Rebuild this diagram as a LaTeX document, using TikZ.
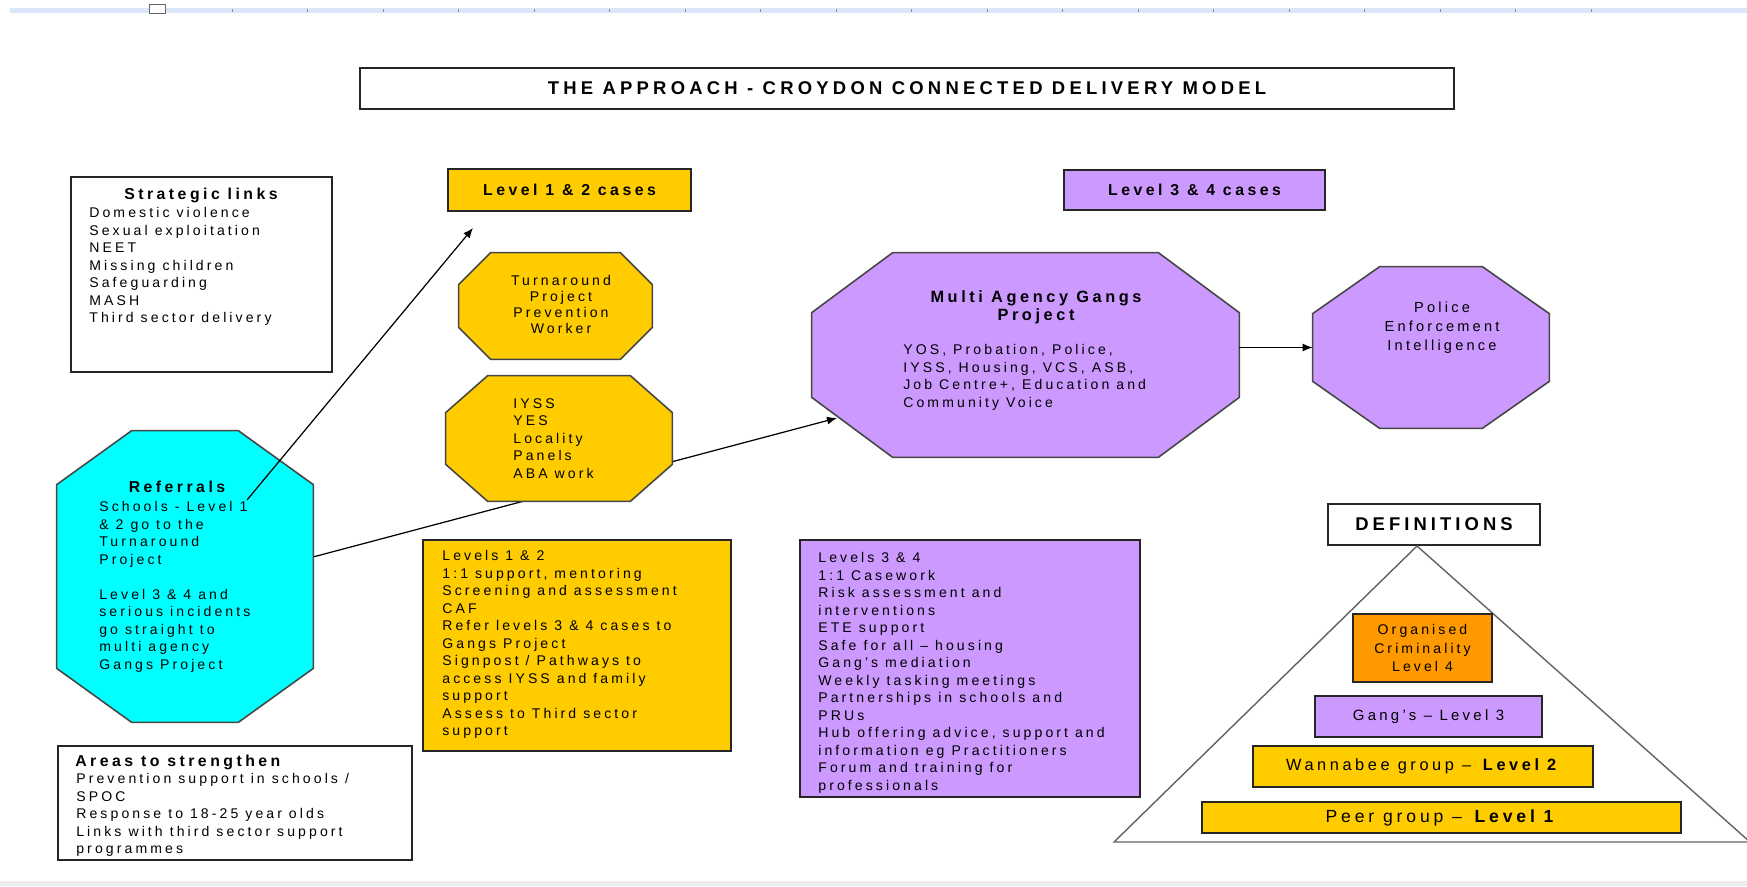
\documentclass[tikz,border=0pt]{standalone}
\usepackage{fontspec}
\setmainfont{Liberation Sans}[LetterSpace=22]
\newfontfamily\titlefamily{Liberation Sans}[LetterSpace=23]
\usetikzlibrary{arrows.meta, fit, calc}

\definecolor{gold}{RGB}{255,204,0}
\definecolor{lilac}{RGB}{204,153,255}
\definecolor{aqua}{RGB}{0,255,255}
\definecolor{amber}{RGB}{255,153,0}
\definecolor{edge}{RGB}{70,70,70}
\definecolor{ruler}{RGB}{218,230,250}

\pgfdeclarelayer{lines}
\pgfdeclarelayer{shapes}
\pgfsetlayers{lines,shapes,main}

\newcommand\bodyfont{\fontsize{8}{9.96}\selectfont}
\newcommand\headfont{\fontsize{9}{11}\selectfont\bfseries}
\newcommand\titlefont{\titlefamily\fontsize{10.5}{12}\selectfont\bfseries}

% octagon round a fitted node: #2 node, #3 x cut, #4 y cut
\newcommand\octagonof[4][]{%
  \begin{pgfonlayer}{shapes}
    \draw[octo,#1] ($(#2.north west)+(#3,0)$) -- ($(#2.north east)+(-#3,0)$)
      -- ($(#2.north east)+(0,#4)$) -- ($(#2.south east)+(0,-#4)$)
      -- ($(#2.south east)+(-#3,0)$) -- ($(#2.south west)+(#3,0)$)
      -- ($(#2.south west)+(0,-#4)$) -- ($(#2.north west)+(0,#4)$) -- cycle;
  \end{pgfonlayer}}

\tikzset{
  boxed/.style={
    rectangle,
    draw=black!85,
    line width=0.9pt,
    inner sep=0pt
  },
  octo/.style={draw=edge, line width=0.9pt},
  headtext/.style={inner sep=0pt, font=\headfont},
  listtext/.style={
    inner sep=0pt,
    anchor=north west,
    align=left,
    font=\bodyfont
  },
  centretext/.style={
    inner sep=0pt,
    anchor=north,
    align=center,
    font=\bodyfont
  },
  boxtext/.style={inner sep=0pt, align=center},
  link/.style={line width=0.7pt, -{Latex[length=0.2cm,width=0.16cm]}},
  pyramid/.style={draw=edge!85, line width=0.8pt}
}

\begin{document}
\begin{tikzpicture}[x=0.02cm, y=-0.02cm]
  \useasboundingbox (0,0) rectangle (1747,886);
  % window ruler and bottom edge
  \fill[ruler] (10,8) rectangle (1747,13);
  \draw[black!60, fill=white] (149,4) rectangle (165,13);
  \foreach \t in {0,...,18}
    \draw[black!45] ({232+75.5*\t},9) -- ++(0,3);
  \fill[black!7] (0,881) rectangle (1747,886);

  \node[boxed, line width=1.4pt, fit={(360,68)(1454,109)}] (title) {};
  \node[boxtext, font=\titlefont] (titletext) at (title) {THE APPROACH - CROYDON CONNECTED DELIVERY MODEL};

  % case headers
  \node[boxed, fill=gold, fit={(448,169)(691,211)}] (cases12) {};
  \node[boxtext, font=\headfont] (cases12text) at (cases12) {Level 1 \& 2 cases};
  \node[boxed, fill=lilac, fit={(1064,170)(1325,210)}] (cases34) {};
  \node[boxtext, font=\headfont] (cases34text) at (cases34) {Level 3 \& 4 cases};

  % strategic links
  \node[boxed, fit={(71,177)(332,372)}] (strat) {};
  \node[headtext, anchor=base] (strathead) at (201,199) {Strategic links};
  \node[listtext] (stratlist) at (89,207) {Domestic violence\\Sexual exploitation\\NEET\\Missing children\\Safeguarding\\MASH\\Third sector delivery};

  % referrals
  \node[fit={(57,431)(313,722)}, inner sep=0pt] (refer) {};
  \octagonof[fill=aqua]{refer}{75}{54}
  \node[headtext, anchor=base] (referhead) at (177,492) {Referrals};
  \node[listtext] (referlist) at (99,501) {Schools - Level 1\\\& 2 go to the\\Turnaround\\Project\\[9.96pt]Level 3 \& 4 and\\serious incidents\\go straight to\\multi agency\\Gangs Project};

  % level 1 & 2 octagons
  \node[fit={(459,253)(652,359)}, inner sep=0pt] (turn) {};
  \octagonof[fill=gold]{turn}{32}{32}
  \node[centretext, font=\fontsize{8}{9.1}\selectfont] (turntext) at (561,275) {Turnaround\\Project\\Prevention\\Worker};
  \node[fit={(446,376)(672,501)}, inner sep=0pt] (iyss) {};
  \octagonof[fill=gold]{iyss}{42}{37}
  \node[listtext] (iysslist) at (513,398) {IYSS\\YES\\Locality\\Panels\\ABA work};

  % level 3 & 4 octagons
  \node[fit={(812,253)(1239,457)}, inner sep=0pt] (gangs) {};
  \octagonof[fill=lilac]{gangs}{81}{60}
  \node[headtext, anchor=north, align=center, font=\fontsize{9.3}{10.2}\selectfont\bfseries] (gangshead) at (1036,290) {Multi Agency Gangs\\Project};
  \node[listtext] (gangslist) at (903,344) {YOS, Probation, Police,\\IYSS, Housing, VCS, ASB,\\Job Centre+, Education and\\Community Voice};
  \node[fit={(1313,267)(1549,428)}, inner sep=0pt] (police) {};
  \octagonof[fill=lilac]{police}{67}{47}
  \node[centretext, font=\fontsize{8.3}{10.8}\selectfont] (policetext) at (1442,302) {Police\\Enforcement\\Intelligence};

  % work lists
  \node[boxed, fill=gold, fit={(423,540)(731,751)}] (work12) {};
  \node[listtext] (work12list) at (442,550) {Levels 1 \& 2\\1:1 support, mentoring\\Screening and assessment\\CAF\\Refer levels 3 \& 4 cases to\\Gangs Project\\Signpost / Pathways to\\access IYSS and family\\support\\Assess to Third sector\\support};
  \node[boxed, fill=lilac, fit={(800,540)(1140,797)}] (work34) {};
  \node[listtext] (work34list) at (818,552) {Levels 3 \& 4\\1:1 Casework\\Risk assessment and\\interventions\\ETE support\\Safe for all -- housing\\Gang's mediation\\Weekly tasking meetings\\Partnerships in schools and\\PRUs\\Hub offering advice, support and\\information eg Practitioners\\Forum and training for\\professionals};

  % areas to strengthen
  \node[boxed, fit={(58,746)(412,860)}] (areas) {};
  \node[headtext, anchor=base west] (areashead) at (75,766) {Areas to strengthen};
  \node[listtext] (areaslist) at (76,773) {Prevention support in schools /\\SPOC\\Response to 18-25 year olds\\Links with third sector support\\programmes};

  % definitions pyramid
  \node[boxed, fill=white, fit={(1328,504)(1540,545)}] (defs) {};
  \node[boxtext, font=\fontsize{10.5}{12}\selectfont\bfseries] (defstext) at (defs) {DEFINITIONS};
  \coordinate (apex) at (1417,546);
  \draw[pyramid] (apex) -- (1114,842) -- (1750,842) -- cycle;
  \node[boxed, fill=amber, fit={(1353,614)(1492,682)}] (level4) {};
  \node[boxtext, font=\fontsize{8}{10.5}\selectfont] (level4text) at (level4) {Organised\\Criminality\\Level 4};
  \node[boxed, fill=lilac, fit={(1315,696)(1542,737)}] (level3) {};
  \node[boxtext, font=\fontsize{8.5}{10}\selectfont] (level3text) at (level3) {Gang's -- Level 3};
  \node[boxed, fill=gold, fit={(1253,746)(1593,787)}] (level2) {};
  \node[boxtext, font=\fontsize{9.3}{11}\selectfont] (level2text) at (level2) {Wannabee group -- \textbf{Level 2}};
  \node[boxed, fill=gold, fit={(1202,802)(1681,833)}] (level1) {};
  \node[boxtext, font=\fontsize{10}{12}\selectfont] (level1text) at (level1) {Peer group -- \textbf{Level 1}};

  % connectors
  \coordinate (refup) at (247,500);
  \coordinate (casesup) at (473,228);
  \draw[link] (refup) -- (casesup);
  \coordinate (refout) at (313,557);
  \coordinate (gangsin) at (837,418);
  \begin{pgfonlayer}{lines}
    \draw[link] (refout) -- (gangsin);
  \end{pgfonlayer}
  \draw[link] (gangs.east |- police.west) -- (police.west);
\end{tikzpicture}
\end{document}
